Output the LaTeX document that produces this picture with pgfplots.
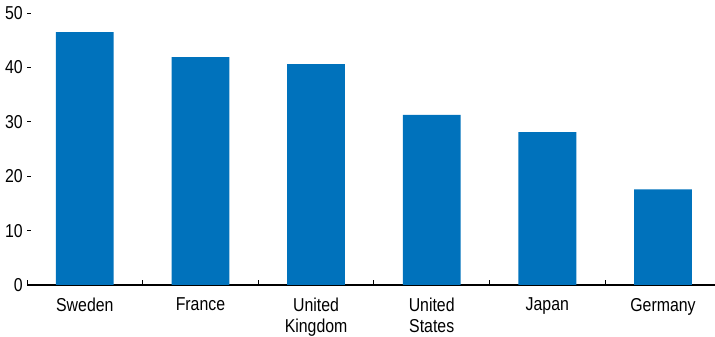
\documentclass[border=0pt]{standalone}
\usepackage{pgfplots}
\pgfplotsset{compat=1.18}
\usepackage{fontspec}
\setmainfont{Liberation Sans}[FakeStretch=0.85]
\definecolor{barblue}{RGB}{0,114,188}
\begin{document}
\fontsize{14pt}{15.5pt}\selectfont
\begin{tikzpicture}
\begin{axis}[
  scale only axis,
  width=516pt, height=204pt,
  xmin=-0.5, xmax=5.45,
  ymin=0, ymax=50,
  axis x line*=bottom,
  axis y line*=left,
  y axis line style={draw=none},
  x axis line style={line width=0.9pt,-},
  xtick={0,1,2,3,4,5},
  xticklabels={Sweden,France,{United\\Kingdom},{United\\States},Japan,Germany},
  xticklabel style={align=center, font=\fontsize{14pt}{15.5pt}\selectfont, yshift=-5pt},
  major x tick style={draw=none},
  minor xtick={-0.5,0.5,1.5,2.5,3.5,4.5},
  minor x tick style={black, line width=0.7pt},
  minor tick length=4pt,
  ytick={0,10,20,30,40,50},
  y tick style={black, line width=0.7pt},
  major tick length=3pt,
  tick align=inside,
  yticklabel style={font=\fontsize{14pt}{15.5pt}\selectfont, inner sep=1pt, xshift=-2pt},
  /pgf/number format/assume math mode=true,
  clip=false,
]
\addplot[ybar, bar width=0.5, fill=barblue, draw=none] coordinates {
  (0,46.5) (1,41.9) (2,40.6) (3,31.25) (4,28.1) (5,17.6)
};
\end{axis}
\pgfresetboundingbox
\path ([shift={(-20.25pt,-39pt)}]current axis.south west) rectangle ([shift={(0pt,9.75pt)}]current axis.north east);
\end{tikzpicture}
\end{document}
